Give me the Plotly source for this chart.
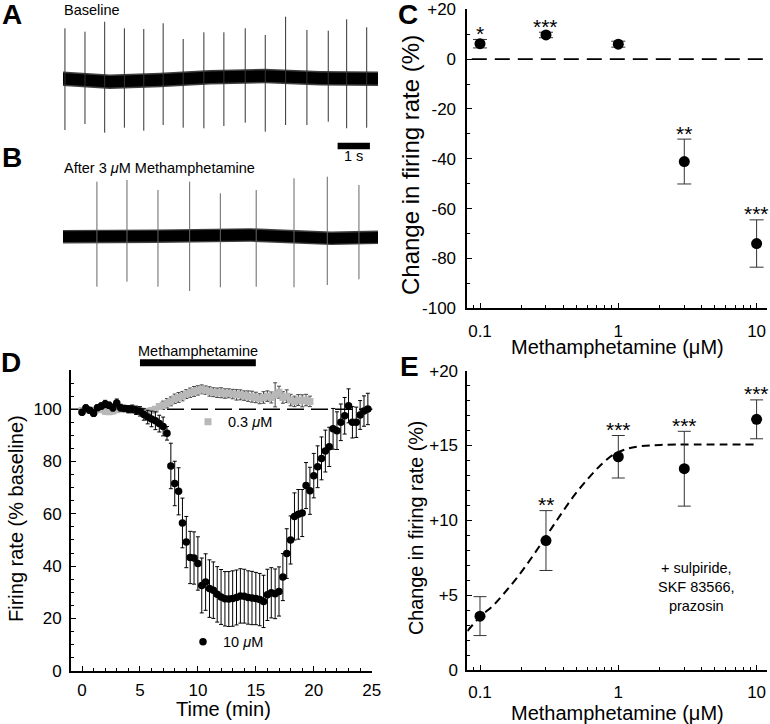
import math
import plotly.graph_objects as go

W, H = 770, 724
FONT = "Liberation Sans, Arial, Helvetica, sans-serif"

# ---------------- Panel A / B : extracellular traces (time in s, amplitude a.u.) ----------------
a_spike_t   = [0.06, 0.68, 1.29, 1.90, 2.50, 3.10, 3.72, 4.36, 4.98, 5.64, 6.26, 6.89, 7.55, 8.21, 8.78, 9.40]
a_spike_top = [50.7, 47.3, 57.3, 50.7, 50.0, 55.7, 40.0, 46.7, 46.7, 50.7, 44.0, 62.3, 49.0, 48.3, 59.7, 51.7]
a_spike_bot = [-51.0, -45.0, -53.7, -48.7, -51.7, -46.0, -48.7, -49.3, -47.0, -43.7, -52.7, -46.0, -46.0, -42.7, -49.3, -48.7]
a_band_t    = [0.0, 1.45, 3.0, 4.55, 6.25, 7.96, 9.75]
a_band_mid  = [0.3, -2.7, -1.0, 1.7, 3.0, 0.7, 0.3]

b_spike_t   = [1.05, 1.98, 2.94, 3.92, 4.87, 5.98, 7.15, 8.18, 9.16]
b_spike_top = [55.0, 56.7, 46.7, 55.0, 43.4, 46.7, 58.4, 60.0, 51.7]
b_spike_bot = [-50.0, -45.0, -50.0, -54.3, -50.6, -50.0, -50.6, -48.3, -42.6]
b_band_t    = [0.0, 2.9, 5.8, 8.3, 9.75]
b_band_mid  = [0.0, 0.5, 1.7, -1.6, -0.6]

scale_bar_s = [8.5, 9.5]

# ---------------- Panel C : concentration-response ----------------
conc    = [0.1, 0.3, 1, 3, 10]
c_mean  = [6.2, 9.7, 6.0, -41.1, -74.0]
c_sem   = [1.7, 1.1, 1.2, 9.0, 9.5]
c_stars = ["*", "***", "", "**", "***"]

# ---------------- Panel D : time course ----------------
time_10 = [i / 3 for i in range(75)]
rate_10 = [98.8, 100.5, 99.6, 98.5, 100.6, 101.2, 102.0, 101.5, 100.6, 102.4,
           100.6, 100.3, 100.0, 100.1, 99.6, 99.2, 98.0, 97.0, 96.3, 95.6,
           94.5, 93.4, 90.8, 78.3, 71.6, 68.6, 56.5, 49.2, 43.3, 43.1,
           41.0, 32.6, 33.9, 31.4, 30.8, 29.2, 28.2, 27.5, 27.4, 27.6,
           28.0, 28.6, 28.5, 28.0, 27.8, 27.6, 27.2, 26.5, 29.0, 29.8,
           29.4, 30.3, 35.8, 44.8, 50.0, 59.0, 59.8, 60.3, 70.8, 68.8,
           74.6, 78.0, 81.2, 84.0, 85.6, 92.5, 91.8, 95.0, 97.5, 101.3,
           95.0, 95.0, 97.8, 99.3, 100.1]
sem_10 = [1.0, 1.2, 1.0, 1.3, 1.1, 1.2, 1.4, 1.2, 1.3, 1.5, 1.3, 1.2, 1.4, 1.5, 1.6, 1.8,
          2.2, 2.6, 3.0, 3.4, 3.2, 3.6, 2.6,
          8.7, 8.5, 9.0, 9.5, 9.8, 10.0, 10.0, 10.2,
          10.5, 10.8, 11.0, 10.8, 10.6, 10.5, 10.4, 10.5, 10.6, 10.5, 10.4, 10.3, 10.2, 10.2,
          10.0, 10.0, 10.0, 9.8, 9.6, 9.5, 9.4,
          9.0, 9.5, 9.2, 9.0, 9.5, 9.0, 8.8, 9.0, 8.5,
          8.0, 8.2, 8.0, 7.5, 7.8, 7.2, 7.0, 7.0,
          6.5, 6.0, 5.8, 5.5, 5.8, 6.0]

time_03 = [i / 3 for i in range(60)]
rate_03 = [99.5, 99.8, 99.6, 99.4, 99.8, 99.9, 99.2, 99.0, 99.3, 99.8,
           100.1, 100.2, 100.3, 100.0, 99.8, 99.5, 99.2, 99.0, 99.5, 100.0,
           101.0, 101.5, 102.3, 103.0, 104.0, 104.5, 105.0, 105.8, 106.3, 106.8,
           107.2, 107.6, 107.3, 106.8, 106.5, 106.3, 106.3, 106.0, 106.1, 105.8,
           105.5, 105.5, 105.2, 105.0, 104.8, 104.5, 104.0, 104.5, 105.0, 104.5,
           105.5, 106.5, 104.5, 105.0, 103.5, 103.0, 103.5, 103.2, 103.5, 103.0]
sem_03 = [1.0] * 21 + [1.6, 1.8, 1.7, 1.8, 1.9, 1.8, 1.7, 1.8, 1.9, 1.8,
                       1.7, 1.6, 1.8, 1.7, 1.8, 1.9, 1.8, 1.7, 1.8, 2.0,
                       1.9, 1.8, 2.0, 2.1, 2.0, 1.9, 2.2, 2.0, 2.1, 4.6,
                       2.3, 2.2, 2.4, 2.2, 2.0, 2.1, 2.3, 2.2, 2.0]
drug_on = [5, 15]

# ---------------- Panel E : with antagonists ----------------
e_mean  = [3.6, 8.65, 14.25, 13.45, 16.75]
e_sem   = [1.3, 2.0, 1.42, 2.5, 1.3]
e_stars = ["", "**", "***", "***", "***"]
fit_x = [0.081, 0.1, 0.125, 0.156, 0.195, 0.243, 0.304, 0.38, 0.474, 0.593, 0.741, 0.925, 1.156, 1.44, 2.01, 3.52, 10.0]
fit_y = [2.6, 3.55, 4.33, 5.33, 6.44, 7.67, 9.0, 10.33, 11.6, 12.7, 13.67, 14.4, 14.78, 14.95, 15.04, 15.07, 15.07]


def dom_x(p0, p1):
    return [p0 / W, p1 / W]


def dom_y(top, bottom):
    return [1 - bottom / H, 1 - top / H]


def band_poly(t, mid, hw):
    xs = list(t) + list(t)[::-1]
    ys = [m + hw for m in mid] + [m - hw for m in mid][::-1]
    return xs, ys


def spike_xy(ts, tops, bots):
    xs, ys = [], []
    for t, a, b in zip(ts, tops, bots):
        xs += [t, t, None]
        ys += [b, a, None]
    return xs, ys


fig = go.Figure()

# A traces
for hw, col in [(7.2, "rgba(0,0,0,0.75)"), (5.8, "black")]:
    bx, by = band_poly(a_band_t, a_band_mid, hw)
    fig.add_trace(go.Scatter(x=bx, y=by, fill="toself", fillcolor=col, mode="none",
                             xaxis="x", yaxis="y", showlegend=False, hoverinfo="skip"))
sx, sy = spike_xy(a_spike_t, a_spike_top, a_spike_bot)
fig.add_trace(go.Scatter(x=sx, y=sy, mode="lines", line=dict(color="#333", width=1),
                         xaxis="x", yaxis="y", showlegend=False, hoverinfo="skip"))

# B traces
for hw, col in [(6.8, "rgba(0,0,0,0.75)"), (5.4, "black")]:
    bx, by = band_poly(b_band_t, b_band_mid, hw)
    fig.add_trace(go.Scatter(x=bx, y=by, fill="toself", fillcolor=col, mode="none",
                             xaxis="x2", yaxis="y2", showlegend=False, hoverinfo="skip"))
sx, sy = spike_xy(b_spike_t, b_spike_top, b_spike_bot)
fig.add_trace(go.Scatter(x=sx, y=sy, mode="lines", line=dict(color="#666", width=1),
                         xaxis="x2", yaxis="y2", showlegend=False, hoverinfo="skip"))

# C
fig.add_trace(go.Scatter(x=conc, y=c_mean, mode="markers",
                         marker=dict(color="black", size=11),
                         error_y=dict(type="data", array=c_sem, color="#333", thickness=1, width=7),
                         xaxis="x3", yaxis="y3", showlegend=False))

# D
fig.add_trace(go.Scatter(x=time_03, y=rate_03, mode="markers", name="0.3 <i>μ</i>M",
                         marker=dict(color="#b8b8b8", size=7, symbol="square"),
                         error_y=dict(type="data", array=sem_03, color="#444", thickness=1, width=2),
                         xaxis="x4", yaxis="y4", showlegend=True, legend="legend"))
fig.add_trace(go.Scatter(x=time_10, y=rate_10, mode="markers", name="10 <i>μ</i>M",
                         marker=dict(color="black", size=7.5),
                         error_y=dict(type="data", array=sem_10, color="black", thickness=1, width=2),
                         xaxis="x4", yaxis="y4", showlegend=True, legend="legend2"))

# E
fig.add_trace(go.Scatter(x=fit_x, y=fit_y, mode="lines", line=dict(color="black", width=2, dash="8px,5px", shape="spline"),
                         xaxis="x5", yaxis="y5", showlegend=False, hoverinfo="skip"))
fig.add_trace(go.Scatter(x=conc, y=e_mean, mode="markers",
                         marker=dict(color="black", size=11),
                         error_y=dict(type="data", array=e_sem, color="#333", thickness=1, width=6.5),
                         xaxis="x5", yaxis="y5", showlegend=False))

axis_common = dict(showline=True, linecolor="black", linewidth=1.7, ticks="inside", ticklen=5,
                   tickwidth=1.4, tickcolor="black", showgrid=False, zeroline=False, automargin=False,
                   tickfont=dict(size=17, color="black", family=FONT))
hidden = dict(visible=False, showgrid=False, zeroline=False, fixedrange=True, automargin=False)
minor_c = dict(ticks="inside", ticklen=3, tickwidth=1.2, tickcolor="black")

fig.update_layout(
    width=W, height=H, autosize=False,
    margin=dict(l=0, r=0, t=0, b=0, pad=0, autoexpand=False),
    paper_bgcolor="white", plot_bgcolor="white",
    font=dict(family=FONT, color="black"),
    xaxis=dict(domain=dom_x(63, 378), range=[0, 9.75], **hidden),
    yaxis=dict(domain=dom_y(10, 155), range=[-76, 69], **hidden),
    xaxis2=dict(domain=dom_x(63, 378), range=[0, 9.75], **hidden),
    yaxis2=dict(domain=dom_y(160, 300), range=[-63.3, 76.7], **hidden),
    xaxis3=dict(domain=dom_x(467.3, 766.7), type="log", range=[-1.0918, 1.073],
                tickvals=[0.1, 1, 10], ticktext=["0.1", "1", "10"], anchor="y3",
                ticklabelstandoff=6, minor=dict(dtick="D1", **minor_c), **axis_common),
    yaxis3=dict(domain=dom_y(9.3, 308.3), range=[-100, 20], anchor="x3",
                tickvals=[-100, -80, -60, -40, -20, 0, 20],
                ticktext=["-100", "-80", "-60", "-40", "-20", "0", "+20"],
                ticklabelstandoff=6, minor=dict(dtick=10, **minor_c), **axis_common),
    xaxis4=dict(domain=dom_x(71, 372.3), range=[-0.95, 25.05], anchor="y4",
                tickvals=[0, 5, 10, 15, 20, 25], ticklabelstandoff=3,
                minor=dict(dtick=1, **minor_c), **axis_common),
    yaxis4=dict(domain=dom_y(370, 670.7), range=[0, 115], anchor="x4",
                tickvals=[0, 20, 40, 60, 80, 100], ticklabelstandoff=4,
                minor=dict(dtick=5, **minor_c), **axis_common),
    xaxis5=dict(domain=dom_x(467.3, 766.7), type="log", range=[-1.0918, 1.073],
                tickvals=[0.1, 1, 10], ticktext=["0.1", "1", "10"], anchor="y5",
                ticklabelstandoff=6, minor=dict(dtick="D1", **minor_c), **axis_common),
    yaxis5=dict(domain=dom_y(370.7, 670), range=[0, 20], anchor="x5",
                tickvals=[0, 5, 10, 15, 20], ticktext=["0", "+5", "+10", "+15", "+20"],
                ticklabelstandoff=4, minor=dict(dtick=1, **minor_c), **axis_common),
    legend=dict(x=188 / W, y=1 - 421.7 / H, xanchor="left", yanchor="middle",
                bgcolor="rgba(0,0,0,0)", font=dict(size=14.5, family=FONT), tracegroupgap=0),
    legend2=dict(x=183 / W, y=1 - 641.7 / H, xanchor="left", yanchor="middle",
                 bgcolor="rgba(0,0,0,0)", font=dict(size=14.5, family=FONT), tracegroupgap=0),
)

shapes = []
# scale bar in A
shapes.append(dict(type="line", xref="x", yref="y", x0=scale_bar_s[0], x1=scale_bar_s[1], y0=-67, y1=-67,
                   line=dict(color="black", width=6.5)))
# zero line in C
shapes.append(dict(type="line", xref="x3 domain", yref="y3", x0=0.015, x1=1, y0=0, y1=0,
                   line=dict(color="black", width=1.7, dash="15px,8px"), layer="below"))
# 100% line in D
shapes.append(dict(type="line", xref="x4 domain", yref="y4", x0=0, x1=1, y0=100, y1=100,
                   line=dict(color="black", width=1.6, dash="17px,7px"), layer="below"))
# drug bar in D
shapes.append(dict(type="line", xref="x4", yref="paper", x0=drug_on[0], x1=drug_on[1],
                   y0=1 - 362.7 / H, y1=1 - 362.7 / H, line=dict(color="black", width=7)))
fig.update_layout(shapes=shapes)

ann = []


def label(text, x, y, size, bold=False, **kw):
    d = dict(text=("<b>%s</b>" % text) if bold else text, x=x / W, y=1 - y / H, xref="paper", yref="paper",
             showarrow=False, xanchor="center", yanchor="middle",
             font=dict(size=size, family=FONT, color="black"))
    d.update(kw)
    ann.append(d)


# panel letters
label("A", 12, 14.5, 28, True)
label("B", 12, 158, 28, True)
label("C", 408, 14, 28, True)
label("D", 11, 362, 28, True)
label("E", 409, 367, 28, True)

label("Baseline", 62, 10, 14.5, xanchor="left")
label("After 3 <i>μ</i>M Methamphetamine", 62, 168, 14.5, xanchor="left")
label("1 s", 353.7, 156, 14.5)
label("Methamphetamine", 198, 350.5, 14.5)

# axis titles
label("Change in firing rate (%)", 410, 165, 24, textangle=-90)
label("Methamphetamine (μM)", 617, 347, 20)
label("Firing rate (% baseline)", 16, 519, 20, textangle=-90)
label("Time (min)", 223.7, 709, 20)
label("Change in firing rate (%)", 416, 528, 19.8, textangle=-90)
label("Methamphetamine (μM)", 617.5, 713, 20)

label("+ sulpiride,<br>SKF 83566,<br>prazosin", 696.7, 587.3, 14.5)

# significance stars
for m, s, st, ax in [(c_mean, c_sem, c_stars, "3"), (e_mean, e_sem, e_stars, "5")]:
    for x, mm, ss, t in zip(conc, m, s, st):
        if t:
            ann.append(dict(text=t, x=math.log10(x), y=mm + ss, xref="x" + ax, yref="y" + ax,
                            showarrow=False, xanchor="center", yanchor="middle", yshift=6,
                            font=dict(size=21, family=FONT, color="black")))

fig.update_layout(annotations=ann)
fig.write_html("out.html", config={"displayModeBar": False},
               post_script="document.body.style.margin='0';document.body.style.padding='0';"
                           "document.body.style.overflow='hidden';")
